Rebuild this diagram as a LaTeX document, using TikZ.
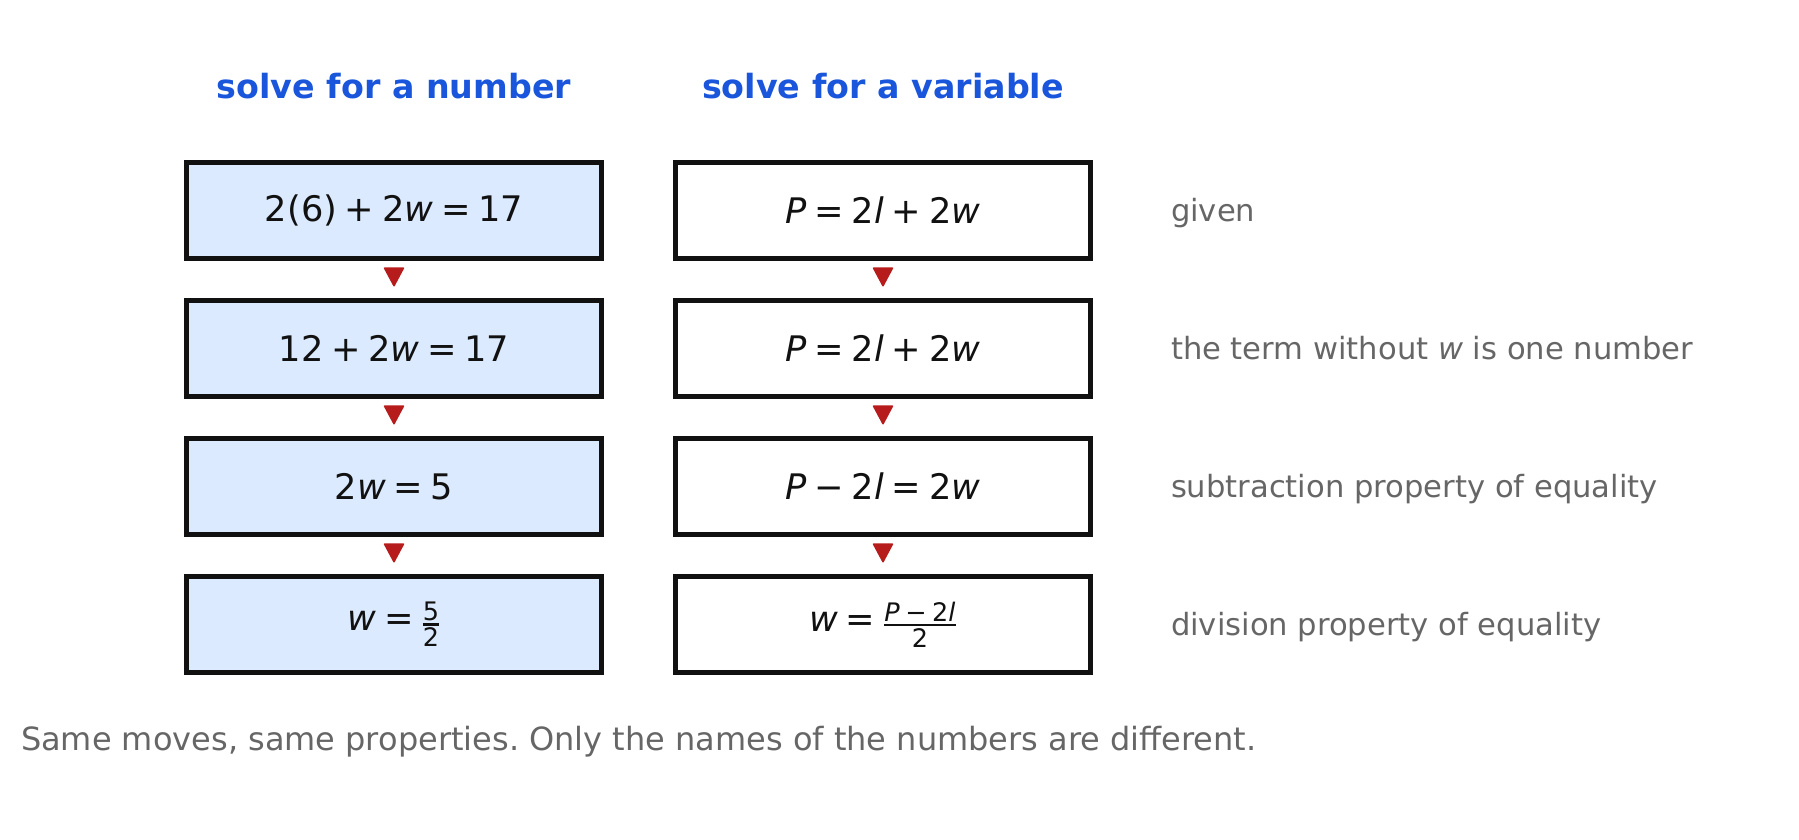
\documentclass[tikz,border=0pt]{standalone}
\usepackage{fontspec}
\usepackage{amsmath}
\setmainfont{DejaVu Sans}
\usetikzlibrary{arrows.meta}
\frenchspacing

\definecolor{headblue}{HTML}{1A56DB}
\definecolor{boxfill}{HTML}{DBEAFE}
\definecolor{arrowred}{HTML}{B71C1C}
\definecolor{notegray}{HTML}{666666}
\definecolor{edgeblack}{HTML}{111111}

\newcommand{\vr}[1]{\textit{#1}}
\newcommand{\bop}[1]{\hspace{.22em}#1\hspace{.22em}}
\newcommand{\fr}[2]{$\genfrac{}{}{2.3pt}{1}{\text{\fontsize{25.5}{30}\selectfont #1}}{\text{\fontsize{25.5}{30}\selectfont #2}}$}

\begin{document}
\begin{tikzpicture}[x=1pt,y=-1pt,
    eqbox/.style={draw=edgeblack,line width=5pt,minimum width=415pt,minimum height=96pt,
        inner sep=0pt,font=\fontsize{35.2}{42}\selectfont,text=edgeblack},
    numbox/.style={eqbox,fill=boxfill},
    varbox/.style={eqbox,fill=white},
    head/.style={anchor=base,font=\fontsize{33.3}{40}\selectfont\bfseries,text=headblue},
    note/.style={anchor=base west,font=\fontsize{30.6}{37}\selectfont,text=notegray},
    down/.style={draw=arrowred,line width=1.5pt,-{Triangle[width=21pt,length=20pt,round]}}]
                \useasboundingbox (0,0) rectangle (1799,840);
                \node[head] (hnum) at (394,99) {solve for a number};
                \node[head] (hvar) at (883,99) {solve for a variable};
                % number column
                \node[numbox] (l1) at (394,210.5) {2(6)\bop{+}2\vr{w}\bop{=}17};
                \node[numbox] (l2) at (394,348.5) {12\bop{+}2\vr{w}\bop{=}17};
                \node[numbox] (l3) at (394,486.5) {2\vr{w}\bop{=}5};
                \node[numbox] (l4) at (394,624.5) {\vr{w}\bop{=}\fr{5}{2}};
                % variable column
                \node[varbox] (r1) at (883,210.5) {\vr{P}\bop{=}2\vr{l}\bop{+}2\vr{w}};
                \node[varbox] (r2) at (883,348.5) {\vr{P}\bop{=}2\vr{l}\bop{+}2\vr{w}};
                \node[varbox] (r3) at (883,486.5) {\vr{P}\bop{−}2\vr{l}\bop{=}2\vr{w}};
                \node[varbox] (r4) at (883,624.5) {\vr{w}\bop{=}\fr{\vr{P}\bop{−}2\vr{l}}{2}};
                \draw[down] ([yshift=-8.5pt]l1.south) -- ([yshift=11.5pt]l2.north);
                \draw[down] ([yshift=-8.5pt]l2.south) -- ([yshift=11.5pt]l3.north);
                \draw[down] ([yshift=-8.5pt]l3.south) -- ([yshift=11.5pt]l4.north);
                \draw[down] ([yshift=-8.5pt]r1.south) -- ([yshift=11.5pt]r2.north);
                \draw[down] ([yshift=-8.5pt]r2.south) -- ([yshift=11.5pt]r3.north);
                \draw[down] ([yshift=-8.5pt]r3.south) -- ([yshift=11.5pt]r4.north);
                % notes
                \node[note] (n1) at (1167.5,221) {given};
                \node[note] (n2) at (1167.5,359) {the term without \vr{w} is one number};
                \node[note] (n3) at (1167.5,497) {subtraction property of equality};
                \node[note] (n4) at (1167.5,635) {division property of equality};
                \node[note,font=\fontsize{32}{38}\selectfont] (foot) at (17.5,750.5)
                    {Same moves, same properties. Only the names of the numbers are different.};
            \end{tikzpicture}
\end{document}
